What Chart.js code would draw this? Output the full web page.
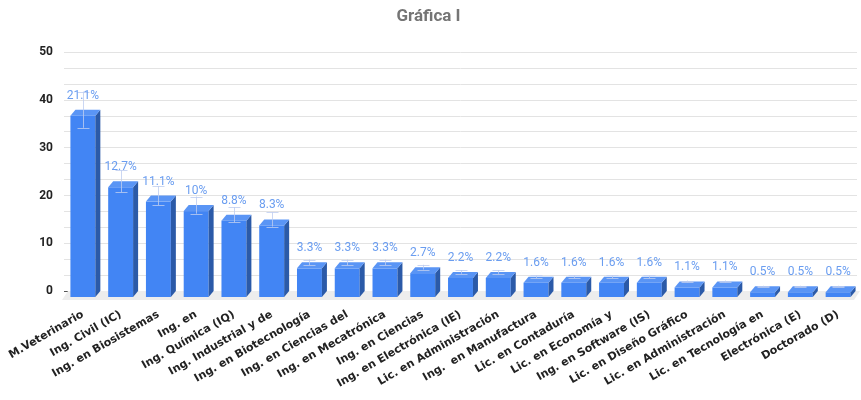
<!DOCTYPE html>
<html>
<head>
<meta charset="utf-8">
<script src="https://cdn.jsdelivr.net/npm/chart.js@4.4.1/dist/chart.umd.min.js"></script>
<style>
  html, body { margin: 0; padding: 0; background: #fff; }
  #wrap { width: 861px; height: 400px; position: relative; }
</style>
</head>
<body>
<div id="wrap"><canvas id="chart"></canvas></div>
<script>
const categories = [
  'M.Veterinario', 'Ing. Civil (IC)', 'Ing. en Biosistemas', 'Ing. en',
  'Ing. Química (IQ)', 'Ing. Industrial y de', 'Ing. en Biotecnología',
  'Ing. en Ciencias del', 'Ing. en Mecatrónica', 'Ing. en Ciencias',
  'Ing. en Electrónica (IE)', 'Lic. en Administración', 'Ing.  en Manufactura',
  'Lic. en Contaduría', 'Lic. en Economía y', 'Ing. en Software (IS)',
  'Lic. en Diseño Gráfico', 'Lic. en Administración', 'Lic. en Tecnología en',
  'Electrónica (E)', 'Doctorado (D)'
];
const counts = [38, 23, 20, 18, 16, 15, 6, 6, 6, 5, 4, 4, 3, 3, 3, 3, 2, 2, 1, 1, 1];
const pctLabels = ['21.1%', '12.7%', '11.1%', '10%', '8.8%', '8.3%', '3.3%', '3.3%', '3.3%',
  '2.7%', '2.2%', '2.2%', '1.6%', '1.6%', '1.6%', '1.6%', '1.1%', '1.1%', '0.5%', '0.5%', '0.5%'];
const yTickLabels = [0, 10, 20, 30, 40, 50];
const minorPerMajor = 3;
const errorPct = 0.1;

const FRONT = '#4285f4';
const SIDE = '#2b5aa8';
const TOP = '#5a95f5';
const DX = 5, DY = 6;

// fake 3d: front face shifted left/down from the grid plane
const bar3d = {
  id: 'bar3d',
  beforeDatasetsDraw(chart) {
    const { ctx, chartArea } = chart;
    const base = chart.scales.y.getPixelForValue(0);
    ctx.save();
    ctx.fillStyle = '#ededed';
    ctx.beginPath();
    ctx.moveTo(chartArea.left - 2, base + DY + 3);
    ctx.lineTo(chartArea.left + 4, base);
    ctx.lineTo(chartArea.right + 3, base);
    ctx.lineTo(chartArea.right - 3, base + DY + 3);
    ctx.closePath();
    ctx.fill();
    ctx.restore();
  },
  afterDatasetsDraw(chart) {
    const ctx = chart.ctx;
    const y = chart.scales.y;
    const base = y.getPixelForValue(0);
    const meta = chart.getDatasetMeta(0);
    ctx.save();
    meta.data.forEach((bar, i) => {
      const w = bar.width, l = bar.x - w / 2, r = bar.x + w / 2, top = bar.y;
      ctx.fillStyle = FRONT;
      ctx.fillRect(l, top + DY, w, base - top);
      ctx.fillStyle = SIDE;
      ctx.beginPath();
      ctx.moveTo(r, top + DY);
      ctx.lineTo(r + DX, top);
      ctx.lineTo(r + DX, base);
      ctx.lineTo(r, base + DY);
      ctx.closePath();
      ctx.fill();
      ctx.fillStyle = TOP;
      ctx.beginPath();
      ctx.moveTo(l, top + DY);
      ctx.lineTo(r, top + DY);
      ctx.lineTo(r + DX, top);
      ctx.lineTo(l + DX, top);
      ctx.closePath();
      ctx.fill();
    });
    // error bars
    ctx.strokeStyle = 'rgba(190,205,240,0.8)';
    ctx.lineWidth = 1;
    meta.data.forEach((bar, i) => {
      const v = counts[i];
      const hi = y.getPixelForValue(v * (1 + errorPct));
      const lo = y.getPixelForValue(v * (1 - errorPct));
      const x = Math.round(bar.x) + 0.5;
      ctx.beginPath();
      ctx.moveTo(x, hi); ctx.lineTo(x, lo);
      ctx.moveTo(x - 6, Math.round(hi) + 0.5); ctx.lineTo(x + 6, Math.round(hi) + 0.5);
      ctx.moveTo(x - 6, Math.round(lo) + 0.5); ctx.lineTo(x + 6, Math.round(lo) + 0.5);
      ctx.stroke();
    });
    // value labels
    ctx.fillStyle = '#6a9df0';
    ctx.font = '12px Roboto';
    ctx.textAlign = 'center';
    ctx.textBaseline = 'middle';
    meta.data.forEach((bar, i) => {
      ctx.fillText(pctLabels[i], bar.x, bar.y - 14);
    });
    ctx.restore();
  }
};

const yMax = yTickLabels[yTickLabels.length - 1];
const yStep = (yTickLabels[1] - yTickLabels[0]) / minorPerMajor;

new Chart(document.getElementById('chart'), {
  type: 'bar',
  data: {
    labels: categories,
    datasets: [{
      data: counts,
      backgroundColor: 'rgba(0,0,0,0)',
      barPercentage: 0.66,
      categoryPercentage: 1
    }]
  },
  options: {
    responsive: true,
    maintainAspectRatio: false,
    animation: false,
    layout: { padding: { right: 4, left: 0, top: 0, bottom: 0 } },
    plugins: {
      legend: { display: false },
      tooltip: { enabled: false },
      title: {
        display: true,
        text: 'Gráfica I',
        color: '#757575',
        font: { family: 'Roboto', size: 17, weight: 'bold' },
        padding: { top: 7, bottom: 25 }
      }
    },
    scales: {
      x: {
        grid: { display: false },
        border: { display: false },
        ticks: {
          autoSkip: false,
          maxRotation: 30,
          minRotation: 30,
          padding: 9,
          color: '#222',
          font: { family: 'DejaVu Sans', size: 11, weight: 'bold' }
        },
        afterFit: s => { s.height = 109; s.paddingLeft = 0; s.paddingRight = 0; }
      },
      y: {
        min: 0,
        max: yMax,
        border: { display: false },
        grid: {
          drawTicks: false,
          color: c => c.tick.value === 0 ? '#555555' : '#e3e3e3'
        },
        afterBuildTicks: axis => {
          const n = Math.round(yMax / yStep);
          axis.ticks = Array.from({ length: n + 1 }, (_, k) => ({ value: k * yStep }));
        },
        ticks: {
          autoSkip: false,
          padding: 11,
          color: '#222',
          font: { family: 'Roboto', size: 12, weight: 'bold' },
          callback: (v, idx) => idx % minorPerMajor === 0 ? String(yTickLabels[idx / minorPerMajor]) : ''
        },
        afterFit: s => { s.width = 64; }
      }
    }
  },
  plugins: [bar3d]
});
</script>
</body>
</html>
